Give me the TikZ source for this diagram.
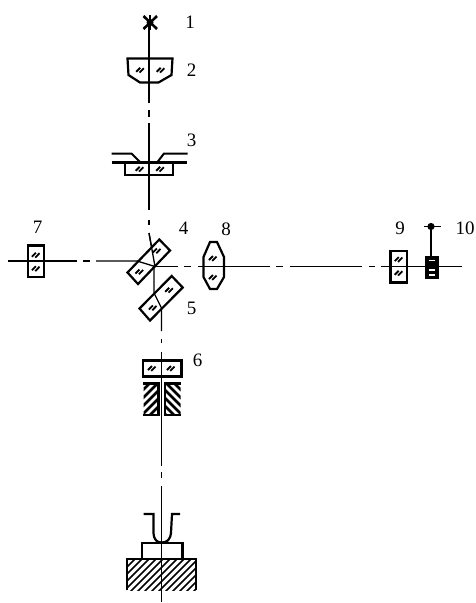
\documentclass[tikz,border=0pt]{standalone}
\usepackage{fontspec}
\setmainfont{Liberation Serif}
\usepackage{xcolor}
\usepackage{tikz}
\tikzset{
    beam/.style={line width=1.3pt},
    part/.style={line width=2.2pt,fill=white,line join=miter},
    thickpart/.style={line width=2.9pt,fill=white},
    numlabel/.style={inner sep=0pt,font=\fontsize{19}{19}\selectfont},
    hatchline/.style={line width=2.6pt},
    glassmark/.pic={
        \draw[line width=1.8pt] (-3.8,1.8) -- (0.2,-2.2);
        \draw[line width=1.8pt] (-0.4,2.6) -- (3.8,-1.8);
    }
}

\begin{document}
\begin{tikzpicture}[x=1pt,y=-1pt]
    \useasboundingbox (0,0) rectangle (476,603);

    % Lamp and upper axis
    \draw[beam] (149,22) -- (149,103);
    \draw[beam] (149,110) -- (149,117);
    \draw[beam] (149,123) -- (149,210);
    \draw[beam] (149,220) -- (149,225);
    \draw[beam] (149,233) -- (155,266);
    \draw[line width=2.6pt] (143.5,16) -- (157,29);
    \draw[line width=2.6pt] (143.5,29) -- (157,16);
    \draw[line width=2.6pt] (150,15) -- (150,30);
    \fill (150,22.5) circle (3.5);

    % Horizontal axes
    \draw[beam] (8,261) -- (77,261);
    \draw[beam] (83,261) -- (90,261);
    \draw[beam] (96,261) -- (137,261) -- (155,266.5);
    \draw[beam] (155,266.5) -- (178,266.5);
    \draw[beam] (184,266.5) -- (191,266.5);
    \draw[beam] (198,266.5) -- (270,266.5);
    \draw[beam] (276,266.5) -- (283,266.5);
    \draw[beam] (290,266.5) -- (362,266.5);
    \draw[beam] (369,266.5) -- (375,266.5);
    \draw[beam] (381,266.5) -- (462,266.5);

    % Lower axis
    \draw[beam] (154,266.5) -- (154,293) -- (161.5,308) -- (161.5,331);
    \draw[beam] (161.5,339) -- (161.5,343);
    \draw[beam] (161.5,352) -- (161.5,466);
    \draw[beam] (161.5,472) -- (161.5,478);
    \draw[beam] (161.5,486) -- (161.5,602);

    % Element 2
    \draw[part] (127.5,58.5) -- (172.5,58.5) -- (171.5,75) -- (158.5,82.5) -- (140,82.5) -- (128.5,75) -- cycle;
    \draw[beam] (149,58.5) -- (149,86);
    \pic at (140,70) {glassmark};
    \pic at (160.5,70) {glassmark};

    % Element 3
    \draw[part] (125,162.5) rectangle (173,175);
    \draw[beam] (149,162) -- (149,175);
    \draw[line width=2.3pt] (111.5,162.5) -- (187,162.5);
    \draw[line width=2pt] (111.5,153.5) -- (131.5,153.5) -- (140,162);
    \draw[line width=2pt] (187.5,153.5) -- (164,153.5) -- (157.5,162);
    \pic at (139.5,169) {glassmark};
    \pic at (160,169) {glassmark};

    % Element 7
    \draw[thickpart] (28,245.5) rectangle (44,277);
    \draw[beam] (28,261) -- (44,261);
    \pic at (35.7,255) {glassmark};
    \pic at (35.7,268.5) {glassmark};

    % Element 4
    \draw[part] (159.3,239.5) -- (170,250.5) -- (138,284) -- (127.5,272.5) -- cycle;
    \draw[beam] (149,233) -- (155,266.5);
    \draw[beam] (137,261) -- (155,266.5);
    \pic at (156.7,250.7) {glassmark};
    \pic at (139.3,271.7) {glassmark};

    % Element 5
    \draw[part] (171.7,276) -- (182.7,287.5) -- (150,320.5) -- (139.5,308.5) -- cycle;
    \draw[beam] (154,293) -- (161.5,308);
    \pic at (169,290) {glassmark};
    \pic at (152.7,307.7) {glassmark};

    % Element 8
    \draw[part] (210,242) -- (217,242) -- (224,257) -- (224,277) -- (217,289) -- (210,289) -- (203.5,277) -- (203.5,257) -- cycle;
    \draw[beam] (203.5,266.5) -- (224,266.5);
    \pic at (212.7,258.3) {glassmark};
    \pic at (212.7,277.3) {glassmark};

    % Element 9
    \draw[thickpart] (390.5,251) rectangle (407,282.5);
    \draw[beam] (390.5,266.5) -- (407,266.5);
    \pic at (398.5,259.3) {glassmark};
    \pic at (398.5,273) {glassmark};

    % Element 10
    \draw[line width=2.4pt] (431,228) -- (431,257);
    \draw[line width=1.6pt] (424,226.5) -- (441,226.5);
    \fill (431,226.5) circle (3.6);
    \fill (425,256) rectangle (438.5,278.5);
    \fill[white] (429,259.5) rectangle (434.5,261);
    \fill[white] (429,269) rectangle (434.5,271);
    \fill[white] (429,273.5) rectangle (434.5,276);

    % Element 6
    \draw[part,line width=2.6pt] (143,360.5) rectangle (181.5,376.5);
    \draw[beam] (161.5,360) -- (161.5,377);
    \pic at (151.7,368.3) {glassmark};
    \pic at (170.7,368.3) {glassmark};
    \begin{scope}
        \clip (143.5,383.5) rectangle (159,415);
        \foreach \k in {0,8,...,56}
            \draw[hatchline] (140,{385+\k}) -- (162,{363+\k});
    \end{scope}
    \begin{scope}
        \clip (164.5,383.5) rectangle (180.5,415);
        \foreach \k in {0,8,...,56}
            \draw[hatchline] (184,{385+\k}) -- (162,{363+\k});
    \end{scope}
    \draw[line width=2.6pt] (143,383.5) -- (159.5,383.5);
    \draw[line width=2.6pt] (164,383.5) -- (181,383.5);
    \draw[line width=2.4pt] (143,415) -- (159.5,415);
    \draw[line width=2.4pt] (164,415) -- (181,415);
    \draw[line width=2.4pt] (158.5,383) -- (158.5,416);
    \draw[line width=2.4pt] (165,383) -- (165,416);
    \draw[beam] (161.5,383) -- (161.5,416);

    % Specimen and stage
    \draw[line width=2.2pt] (143.5,514) -- (153.5,514) -- (153.5,533) .. controls (154,540) and (157,542.5) .. (161.5,542.5) .. controls (167,542.5) and (170,540) .. (171,533) -- (172,514) -- (180,514);
    \draw[line width=2.2pt] (142,558.5) -- (142,543) -- (182.5,543) -- (182.5,558.5);
    \begin{scope}
        \clip (127,559) rectangle (196,590);
        \foreach \k in {0,7,...,105}
            \draw[line width=1.5pt] (120,{560+\k}) -- (200,{480+\k});
    \end{scope}
    \draw[line width=2.6pt] (126,559) -- (197,559);
    \draw[line width=2.4pt] (127,559) -- (127,590);
    \draw[line width=2.4pt] (196,559) -- (196,590);
    \draw[beam] (161.5,486) -- (161.5,602);

    % Labels
    \node[numlabel] (label1) at (190,22) {1};
    \node[numlabel] (label2) at (191.5,70) {2};
    \node[numlabel] (label3) at (191.5,140.5) {3};
    \node[numlabel] (label4) at (183.5,228.5) {4};
    \node[numlabel] (label5) at (191.5,308) {5};
    \node[numlabel] (label6) at (197.5,360.5) {6};
    \node[numlabel] (label7) at (37.7,227.5) {7};
    \node[numlabel] (label8) at (226,229) {8};
    \node[numlabel] (label9) at (400,228.5) {9};
    \node[numlabel] (label10) at (465,228.5) {10};
\end{tikzpicture}
\end{document}
